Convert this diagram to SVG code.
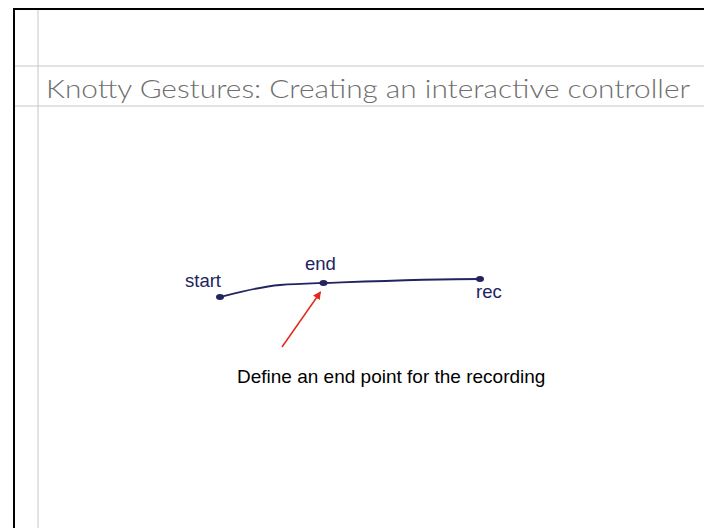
<svg xmlns="http://www.w3.org/2000/svg" width="704" height="528" viewBox="0 0 704 528">
<style>
.frame{stroke:#000;stroke-width:2;fill:none}
.guide{stroke:#c8c8c8;stroke-width:1;fill:none}
.title{font-family:Lato,"Open Sans",sans-serif;font-weight:300;font-size:26px;fill:#6e6e6e}
.lbl{font-family:"Liberation Sans",Arial,sans-serif;font-size:18.5px;fill:#22245e}
.cap{font-family:"Liberation Sans",Arial,sans-serif;font-size:19px;fill:#000}
.knot{fill:#22245e}
</style>
<defs>
<marker id="ah" viewBox="0 0 10 10" refX="9" refY="5" markerWidth="8" markerHeight="8" orient="auto" markerUnits="userSpaceOnUse">
<path d="M0,0 L10,5 L0,10 z" fill="#e02a1e"/>
</marker>
</defs>
<rect width="704" height="528" fill="#fff"/>
<g id="frame">
<line class="guide" x1="38" y1="8" x2="38" y2="528"/>
<line class="guide" x1="15" y1="66" x2="704" y2="66"/>
<line class="guide" x1="15" y1="106" x2="704" y2="106"/>
<path class="frame" d="M14,528 L14,9 L704,9"/>
</g>
<text class="title" x="46" y="98" textLength="644" lengthAdjust="spacingAndGlyphs">Knotty Gestures: Creating an interactive controller</text>
<g id="connectors">
<path d="M220,297 C240,292 258,287 280,285 C295,284 310,283.5 323,283 C380,281 430,279 480,279" fill="none" stroke="#22245e" stroke-width="1.8"/>
<line x1="282" y1="347" x2="320.5" y2="292" stroke="#e02a1e" stroke-width="1.5" marker-end="url(#ah)"/>
</g>
<g id="node-start">
<ellipse class="knot" cx="220" cy="297" rx="4" ry="3"/>
<text class="lbl" x="185" y="287">start</text>
</g>
<g id="node-end">
<ellipse class="knot" cx="323.5" cy="283" rx="4" ry="3"/>
<text class="lbl" x="305" y="270">end</text>
</g>
<g id="node-rec">
<ellipse class="knot" cx="480" cy="279" rx="4" ry="3"/>
<text class="lbl" x="476" y="298">rec</text>
</g>
<g id="caption">
<text class="cap" x="237" y="383">Define an end point for the recording</text>
</g>
</svg>
